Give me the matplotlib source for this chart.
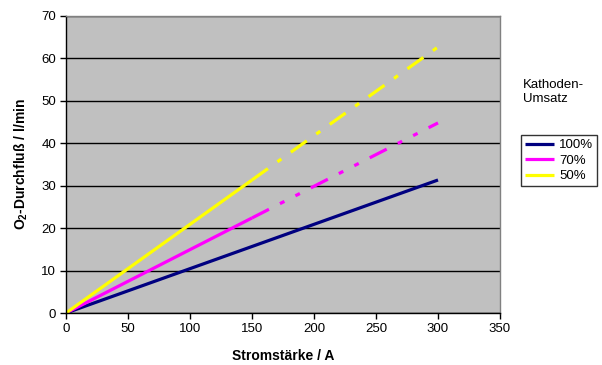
import matplotlib
matplotlib.use("Agg")
import matplotlib.pyplot as plt
import numpy as np

plt.rcParams['font.family'] = ['Liberation Sans', 'DejaVu Sans']
plt.rcParams['mathtext.fontset'] = 'custom'
plt.rcParams['mathtext.rm'] = 'Liberation Sans:bold'
plt.rcParams['mathtext.it'] = 'Liberation Sans:bold'
plt.rcParams['mathtext.bf'] = 'Liberation Sans:bold'
plt.rcParams['lines.scale_dashes'] = False

# Data
current_solid = [0, 150]
current_dashed = [150, 300]
current_all = [0, 300]
flow_100 = [0.0, 31.35]
flow_70 = [0.0, 44.8]
flow_50 = [0.0, 62.7]
labels = ['100%', '70%', '50%']
colors = ['#000080', '#FF00FF', '#FFFF00']
xticks = [0, 50, 100, 150, 200, 250, 300, 350]
yticks = [0, 10, 20, 30, 40, 50, 60, 70]

fig = plt.figure(figsize=(6.02, 3.65), dpi=100)
ax = fig.add_axes([66/602, 1 - 313/365, (500-66)/602, (313-16)/365])
ax.set_facecolor('#C0C0C0')

def interp(x, xs, ys):
    return np.interp(x, xs, ys)

lw = 2.3
# 100% solid
ax.plot(current_all, flow_100, color=colors[0], lw=lw, label=labels[0], solid_capstyle='butt')
# 70%: solid then long-dash-dot-dot
ax.plot(current_solid, interp(current_solid, current_all, flow_70), color=colors[1], lw=lw,
        solid_capstyle='butt', label=labels[1])
ax.plot(current_dashed, interp(current_dashed, current_all, flow_70), color=colors[1], lw=lw,
        dashes=(13.7, 8.9, 3.6, 8.9, 3.6, 8.9), dash_capstyle='butt')
# 50%: solid then long-dash-dot
ax.plot(current_solid, interp(current_solid, current_all, flow_50), color=colors[2], lw=lw,
        solid_capstyle='butt', label=labels[2])
ax.plot(current_dashed, interp(current_dashed, current_all, flow_50), color=colors[2], lw=lw,
        dashes=(14.1, 8.4, 3.5, 8.4), dash_capstyle='butt')

ax.set_xlim(0, 350)
ax.set_ylim(0, 70)
ax.set_xticks(xticks)
ax.set_yticks(yticks)
ax.yaxis.grid(True, color='black', lw=1.0)
ax.set_axisbelow(True)
ax.tick_params(direction='out', length=4, width=1, labelsize=9.5, colors='black', pad=3)
for s in ['left', 'bottom']:
    ax.spines[s].set_color('black')
    ax.spines[s].set_linewidth(1.0)
for s in ['top', 'right']:
    ax.spines[s].set_color('#808080')
    ax.spines[s].set_linewidth(1.0)

ax.set_xlabel('Stromstärke / A', fontsize=10, fontweight='bold', labelpad=10)
ax.set_ylabel(r'O$_{2}$-Durchfluß / l/min', fontsize=10, fontweight='bold', labelpad=8)

fig.text(523/602, 1 - 92/365, 'Kathoden-\nUmsatz', fontsize=9.5, va='center', ha='left',
         linespacing=1.25)

leg = fig.legend(loc='upper left', bbox_to_anchor=(521/602, 1 - 135/365), fontsize=9.5,
                 frameon=True, fancybox=False, edgecolor='black', borderpad=0.3,
                 handlelength=2.2, handletextpad=0.4, labelspacing=0.25, borderaxespad=0)
leg.get_frame().set_linewidth(1.0)

fig.savefig('out.png', dpi=100)
